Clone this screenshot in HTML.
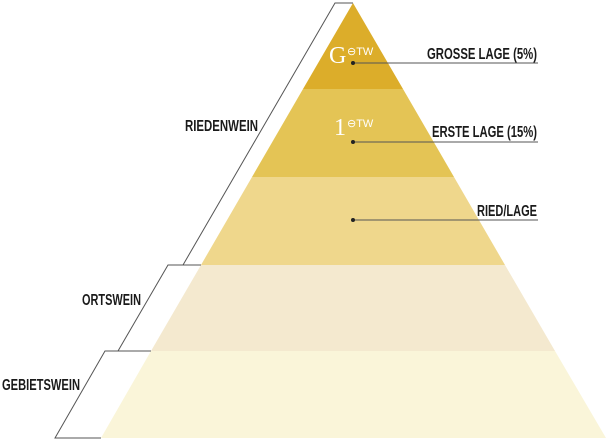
<!DOCTYPE html>
<html><head><style>
html,body{margin:0;padding:0;background:#fff;width:608px;height:440px;overflow:hidden}
text.l{font-family:"Liberation Sans",sans-serif;font-weight:bold;fill:#1a1a1a}
</style></head><body>
<svg width="608" height="440" viewBox="0 0 608 440" xmlns="http://www.w3.org/2000/svg">
<polygon points="353,3 403,89 303,89" fill="#dcad2a"/>
<polygon points="303,89 403,89 454,177 252,177" fill="#e4c455"/>
<polygon points="252,177 454,177 505,265 201,265" fill="#efd78c"/>
<polygon points="201,265 505,265 555,351 151,351" fill="#f4e9cf"/>
<polygon points="151,351 555,351 606,438 101,438" fill="#faf5d9"/>
<g fill="none" stroke="#555" stroke-width="1">
<polyline points="353,3 335,3 183,265 201,265"/>
<polyline points="201,265 168,265 118,351 151,351"/>
<polyline points="151,351 105,351 55,438 101,438"/>
<line x1="353" y1="63" x2="538" y2="63"/>
<line x1="353" y1="142" x2="538" y2="142"/>
<line x1="353" y1="220" x2="538" y2="220"/>
</g>
<circle cx="353" cy="63" r="2" fill="#222"/>
<circle cx="353" cy="142" r="2" fill="#222"/>
<circle cx="353" cy="220" r="2" fill="#222"/>
<text class="l" x="427" y="59" font-size="16" textLength="110" lengthAdjust="spacingAndGlyphs">GROSSE LAGE (5%)</text>
<text class="l" x="432" y="137" font-size="16" textLength="105" lengthAdjust="spacingAndGlyphs">ERSTE LAGE (15%)</text>
<text class="l" x="477" y="216" font-size="16" textLength="60" lengthAdjust="spacingAndGlyphs">RIED/LAGE</text>
<text class="l" x="185" y="131" font-size="16" textLength="73" lengthAdjust="spacingAndGlyphs">RIEDENWEIN</text>
<text class="l" x="82" y="305" font-size="16" textLength="59" lengthAdjust="spacingAndGlyphs">ORTSWEIN</text>
<text class="l" x="2" y="390" font-size="16" textLength="78" lengthAdjust="spacingAndGlyphs">GEBIETSWEIN</text>
<text x="329" y="63" font-size="24" font-family="Liberation Serif,serif" fill="#fff">G</text>
<text x="347" y="55" font-size="11" font-family="Liberation Sans,sans-serif" fill="#fff">⊖TW</text>
<text x="334" y="135" font-size="24" font-family="Liberation Serif,serif" fill="#fff">1</text>
<text x="347" y="127" font-size="11" font-family="Liberation Sans,sans-serif" fill="#fff">⊖TW</text>
</svg>
</body></html>
